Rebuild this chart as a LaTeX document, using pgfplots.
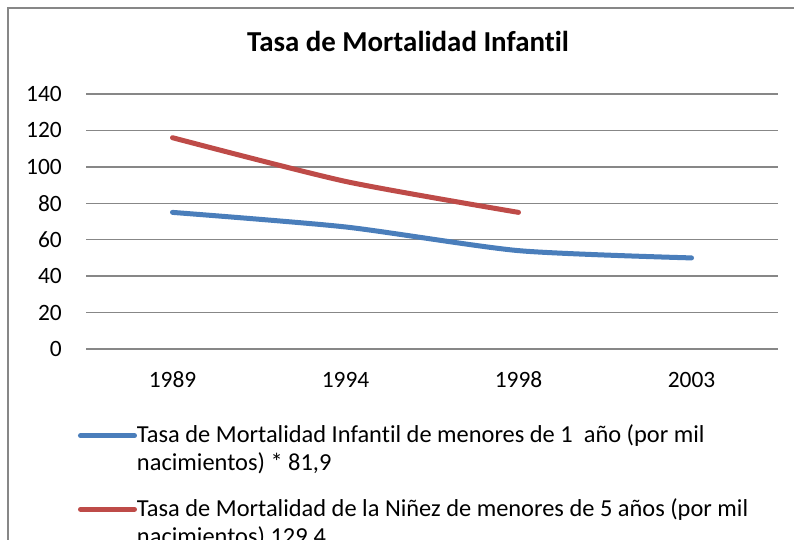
\documentclass[border=0pt]{standalone}
\usepackage{fontspec}
\setmainfont{Carlito}[Ligatures=NoCommon]
\usepackage{pgfplots}
\pgfplotsset{compat=1.18}
\definecolor{xlblue}{HTML}{4A7EBB}
\definecolor{xlred}{HTML}{BE4B48}
\definecolor{gridgray}{HTML}{878787}
\begin{document}
\begin{tikzpicture}[x=1bp,y=1bp]
\path[use as bounding box] (0,0) rectangle (794,540);
\clip (0,0) rectangle (794,540);
\fill[white] (0,0) rectangle (794,540);
\draw[gridgray, line width=1.5bp] (8,-20) -- (8,532) -- (820,532);
\begin{axis}[
  at={(86bp,191bp)}, anchor=south west,
  scale only axis, width=692bp, height=255bp,
  xmin=-0.5, xmax=3.5, ymin=0, ymax=140,
  ytick={0,20,...,140},
  xtick={0,1,2,3}, xticklabels={1989,1994,1998,2003},
  axis line style={draw=none},
  major tick length=0pt,
  ymajorgrids, grid style={gridgray, line width=1.5bp},
  tick label style={font=\fontsize{23.5}{27}\selectfont, inner sep=0pt},
  yticklabel style={anchor=east, xshift=-24bp},
  xticklabel style={anchor=center, yshift=-31bp},
  /pgf/number format/assume math mode=true,
  title={Tasa de Mortalidad Infantil},
  title style={font=\bfseries\fontsize{29}{32}\selectfont, at={(0.5,1)}, anchor=center, xshift=-24bp, yshift=47bp},
  legend style={at={(-0.01156,-0.298)}, anchor=north west, draw=none, fill=none,
     inner sep=0pt, outer sep=0pt, font=\fontsize{24.5}{28}\selectfont,
     row sep=54bp, column sep=0bp,
     nodes={inner sep=0pt},
     cells={anchor=base west}},
  legend image code/.code={\draw[#1, line cap=round] (0bp,7bp) -- (54bp,7bp);},
  clip=false,
]
\addplot[xlblue, line width=5bp, smooth, tension=0.4, line cap=round, line join=round] coordinates {(0,75) (1,67) (2,54) (3,50)};
\addlegendentry{\parbox[t]{650bp}{Tasa de Mortalidad Infantil de menores de 1~ año (por mil\\nacimientos) * 81,9}}
\addplot[xlred, line width=5bp, smooth, tension=0.4, line cap=round, line join=round] coordinates {(0,116) (1,92) (2,75)};
\addlegendentry{\parbox[t]{650bp}{Tasa de Mortalidad de la Niñez de menores de 5 años (por mil\\nacimientos) 129,4}}
\end{axis}
\end{tikzpicture}
\end{document}
